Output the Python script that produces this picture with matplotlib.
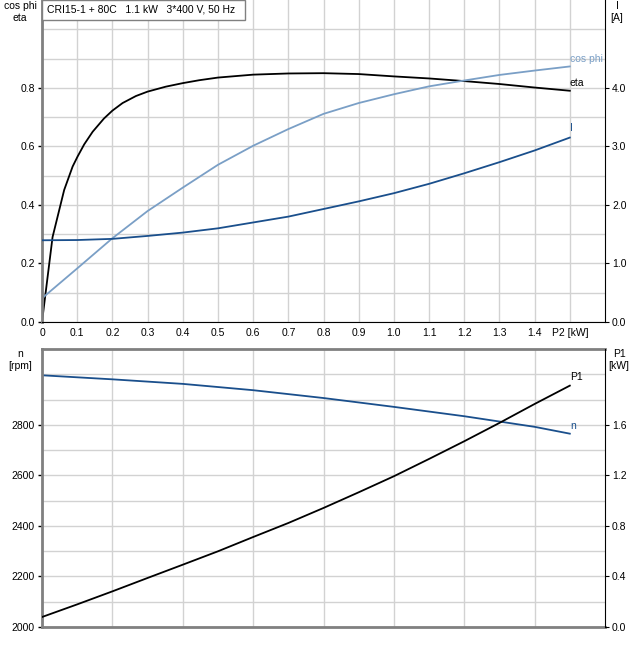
import numpy as np
import matplotlib.pyplot as plt
from matplotlib.patches import Rectangle

plt.rcParams['font.family'] = ['Liberation Sans', 'DejaVu Sans']

# ---- data ----
title = 'CRI15-1 + 80C   1.1 kW   3*400 V, 50 Hz'

p2_eta = [0, 0.03, 0.063, 0.087, 0.101, 0.12, 0.144, 0.176, 0.2, 0.229,
          0.267, 0.3, 0.352, 0.4, 0.447, 0.5, 0.6, 0.7, 0.8, 0.9, 1.0,
          1.1, 1.2, 1.3, 1.4, 1.5]
eta = [0, 0.29, 0.451, 0.531, 0.565, 0.607, 0.650, 0.695, 0.722, 0.748,
       0.772, 0.787, 0.804, 0.816, 0.826, 0.835, 0.845, 0.849, 0.85, 0.847,
       0.839, 0.832, 0.823, 0.813, 0.801, 0.79]

p2 = [0, 0.1, 0.2, 0.3, 0.4, 0.5, 0.6, 0.7, 0.8, 0.9, 1.0, 1.1, 1.2, 1.3, 1.4, 1.5]
cos_phi = [0.081, 0.183, 0.286, 0.379, 0.459, 0.537, 0.602, 0.659, 0.711,
           0.748, 0.778, 0.805, 0.825, 0.844, 0.859, 0.873]
current = [1.396, 1.40, 1.42, 1.47, 1.527, 1.60, 1.70, 1.80, 1.93, 2.06,
           2.20, 2.36, 2.54, 2.73, 2.93, 3.15]
p1 = [0.079, 0.179, 0.282, 0.388, 0.493, 0.599, 0.712, 0.823, 0.942, 1.066,
      1.193, 1.33, 1.47, 1.615, 1.765, 1.91]

p2_n = [0, 0.2, 0.4, 0.6, 0.8, 1.0, 1.2, 1.4, 1.5]
speed = [2996, 2980, 2962, 2937, 2906, 2871, 2834, 2792, 2765]

x_ticks = [0, 0.1, 0.2, 0.3, 0.4, 0.5, 0.6, 0.7, 0.8, 0.9, 1.0, 1.1, 1.2, 1.3, 1.4, 1.5]
x_labels = ['0', '0.1', '0.2', '0.3', '0.4', '0.5', '0.6', '0.7', '0.8', '0.9',
            '1.0', '1.1', '1.2', '1.3', '1.4', 'P2 [kW]']

C_BLACK = '#000000'
C_LIGHT = '#7a9fc6'
C_DARK = '#1a4f8c'
C_GRID = '#d2d2d2'
C_SPINE = '#808080'
FS = 7.5
LW = 1.3

fig = plt.figure(figsize=(6.36, 6.45), dpi=100)


def style_axes(ax, top_grey):
    ax.set_xlim(0, 1.6)
    ax.set_axisbelow(True)
    ax.grid(True, which='both', color=C_GRID, lw=1)
    ax.spines['left'].set_color(C_SPINE)
    ax.spines['left'].set_linewidth(2)
    ax.spines['right'].set_visible(False)
    if top_grey:
        ax.spines['top'].set_color(C_SPINE)
        ax.spines['top'].set_linewidth(2)
    else:
        ax.spines['top'].set_visible(False)
    ax.tick_params(labelsize=FS, length=3, width=1, pad=2, colors='black')
    ax.tick_params(which='minor', length=0)


def style_twin(ax):
    ax.tick_params(labelsize=FS, length=3, pad=2)
    for s in ['top', 'left', 'bottom']:
        ax.spines[s].set_visible(False)
    ax.spines['right'].set_color('black')


# ---- upper chart ----
ax1 = fig.add_axes([42 / 636, 1 - 322 / 645, 563 / 636, 322 / 645])
style_axes(ax1, top_grey=False)
ax1.set_ylim(0, 1.1)
ax1.set_yticks([0, 0.2, 0.4, 0.6, 0.8])
ax1.set_yticklabels(['0.0', '0.2', '0.4', '0.6', '0.8'])
ax1.set_yticks([0.1, 0.3, 0.5, 0.7, 0.9, 1.0], minor=True)
ax1.set_xticks(x_ticks)
ax1.set_xticklabels(x_labels)
ax1.tick_params(axis='x', length=0, pad=4)
ax1.spines['bottom'].set_color('black')

ax1.plot(p2_eta, eta, color=C_BLACK, lw=LW)
ax1.plot(p2, cos_phi, color=C_LIGHT, lw=LW)

ax1r = ax1.twinx()
ax1r.set_ylim(0, 5.5)
ax1r.set_yticks([0, 1, 2, 3, 4])
ax1r.set_yticklabels(['0.0', '1.0', '2.0', '3.0', '4.0'])
style_twin(ax1r)
ax1r.plot(p2, current, color=C_DARK, lw=LW)

ax1.text(p2[-1], cos_phi[-1] + 0.01, 'cos phi', color=C_LIGHT, fontsize=FS,
         ha='left', va='bottom')
ax1.text(p2[-1], eta[-1] + 0.01, 'eta', color=C_BLACK, fontsize=FS,
         ha='left', va='bottom')
ax1r.text(p2[-1], current[-1] + 0.07, 'I', color=C_DARK, fontsize=FS,
          ha='left', va='bottom')

fig.text(20 / 636, 1 - 12 / 645, 'cos phi\neta', fontsize=FS, ha='center',
         va='center', linespacing=1.3)
fig.text(617 / 636, 1 - 12 / 645, 'I\n[A]', fontsize=FS, ha='center',
         va='center', linespacing=1.3)

# title box in the top-left corner
fig.patches.append(Rectangle((42 / 636, 1 - 20 / 645), 203 / 636, 20 / 645,
                             transform=fig.transFigure, fc='white',
                             ec=C_SPINE, lw=1, zorder=5))
fig.text(47 / 636, 1 - 10 / 645, title, fontsize=FS, ha='left', va='center',
         zorder=6)

# ---- lower chart ----
ax2 = fig.add_axes([42 / 636, 1 - 627 / 645, 563 / 636, 278 / 645])
style_axes(ax2, top_grey=True)
ax2.set_ylim(2000, 3100)
ax2.set_yticks([2000, 2200, 2400, 2600, 2800])
ax2.set_yticks([2100, 2300, 2500, 2700, 2900, 3000], minor=True)
ax2.set_xticks([0, 0.2, 0.4, 0.6, 0.8, 1.0, 1.2, 1.4])
ax2.set_xticklabels([])
ax2.tick_params(axis='x', length=0)
ax2.spines['bottom'].set_color(C_SPINE)
ax2.spines['bottom'].set_linewidth(2)
ax2.plot(p2_n, speed, color=C_DARK, lw=LW)

ax2r = ax2.twinx()
ax2r.set_ylim(0, 2.2)
ax2r.set_yticks([0, 0.4, 0.8, 1.2, 1.6])
ax2r.set_yticklabels(['0.0', '0.4', '0.8', '1.2', '1.6'])
style_twin(ax2r)
ax2r.plot(p2, p1, color=C_BLACK, lw=LW)

ax2r.text(p2[-1], p1[-1] + 0.03, 'P1', color=C_BLACK, fontsize=FS,
          ha='left', va='bottom')
ax2.text(p2_n[-1], speed[-1] + 12, 'n', color=C_DARK, fontsize=FS,
         ha='left', va='bottom')

fig.text(20 / 636, 1 - 360 / 645, 'n\n[rpm]', fontsize=FS, ha='center',
         va='center', linespacing=1.3)
fig.text(619 / 636, 1 - 360 / 645, 'P1\n[kW]', fontsize=FS, ha='center',
         va='center', linespacing=1.3)

fig.savefig('out.png', dpi=100)
